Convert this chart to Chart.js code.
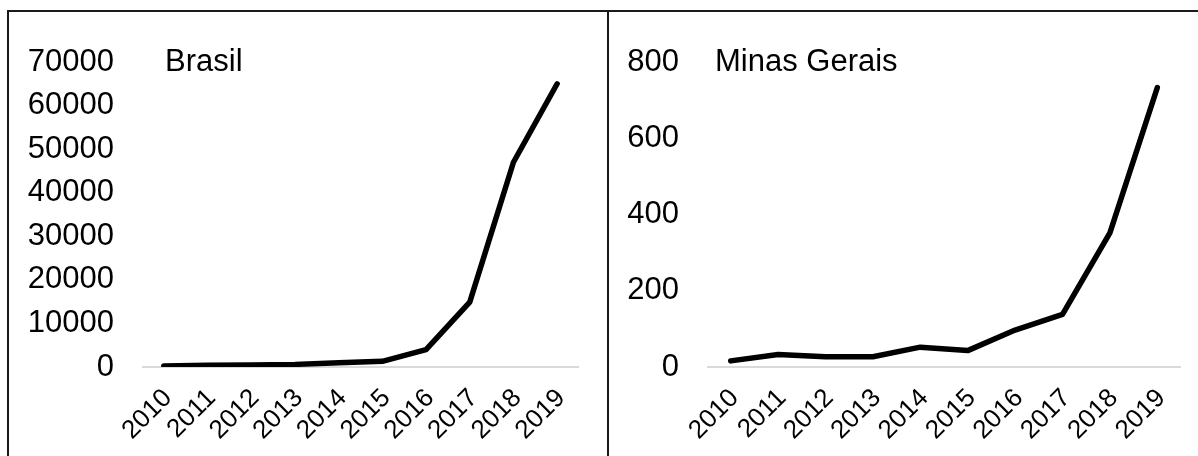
<!DOCTYPE html>
<html lang="pt">
<head>
    <meta charset="UTF-8">
    <title>Brasil e Minas Gerais</title>
    <style>
        body { margin: 0; background: #fff; width: 1198px; height: 456px; position: relative; overflow: hidden; }
        .panel { position: absolute; top: 10px; height: 446px; box-sizing: border-box; border-top: 2px solid #1a1a1a; border-left: 2px solid #1a1a1a; }
        #p1 { left: 7px; width: 600px; }
        #p2 { left: 607px; width: 591px; }
        .panel div { position: relative; width: 100%; height: 100%; }
    </style>
</head>
<body>
    <div class="panel" id="p1"><div><canvas id="chartBrasil"></canvas></div></div>
    <div class="panel" id="p2"><div><canvas id="chartMG"></canvas></div></div>

    <script src="https://cdn.jsdelivr.net/npm/chart.js"></script>
    <script>
        const anos = ['2010', '2011', '2012', '2013', '2014', '2015', '2016', '2017', '2018', '2019'];
        const brasil = [250, 400, 450, 600, 1000, 1300, 4000, 14900, 47000, 65000];
        const minasGerais = [16, 33, 27, 27, 52, 43, 97, 138, 352, 733];

        const fonte = "'Liberation Sans', Arial, sans-serif";

        // escreve o nome da regiao dentro da area do grafico
        const rotulo = {
            id: 'rotulo',
            afterDraw(chart, args, opts) {
                const ctx = chart.ctx;
                ctx.save();
                ctx.font = '31px ' + fonte;
                ctx.fillStyle = '#000';
                ctx.textBaseline = 'middle';
                ctx.fillText(opts.text, opts.x, chart.chartArea.top);
                ctx.restore();
            }
        };

        function criarGrafico(id, nome, valores, max, passo, esq, dir, xNome) {
            new Chart(document.getElementById(id), {
                type: 'line',
                data: {
                    labels: anos,
                    datasets: [{
                        data: valores,
                        borderColor: '#000',
                        borderWidth: 5.5,
                        borderJoinStyle: 'round',
                        borderCapStyle: 'round',
                        pointRadius: 0,
                        tension: 0,
                        fill: false
                    }]
                },
                options: {
                    responsive: true,
                    maintainAspectRatio: false,
                    animation: false,
                    layout: { padding: { left: 0, right: dir, top: 50, bottom: 0 } },
                    plugins: {
                        legend: { display: false },
                        tooltip: { enabled: false },
                        rotulo: { text: nome, x: xNome }
                    },
                    scales: {
                        x: {
                            offset: true,
                            grid: { display: false },
                            border: { display: false },
                            ticks: {
                                color: '#000',
                                font: { family: fonte, size: 26 },
                                maxRotation: 45,
                                minRotation: 45,
                                padding: 8,
                                labelOffset: 4,
                                autoSkip: false
                            },
                            afterFit(scale) { scale.height = 89; }
                        },
                        y: {
                            min: 0,
                            max: max,
                            border: { display: false },
                            grid: {
                                drawTicks: false,
                                lineWidth: 2,
                                color: c => c.tick.value === 0 ? '#d9d9d9' : 'rgba(0,0,0,0)'
                            },
                            ticks: {
                                stepSize: passo,
                                color: '#000',
                                font: { family: fonte, size: 31 },
                                padding: 28,
                                callback: v => String(v)
                            },
                            afterFit(scale) { scale.width = esq; }
                        }
                    }
                },
                plugins: [rotulo]
            });
        }

        criarGrafico('chartBrasil', 'Brasil', brasil, 70000, 10000, 133, 28, 156);
        criarGrafico('chartMG', 'Minas Gerais', minasGerais, 800, 200, 98, 17, 106);
    </script>
</body>
</html>
